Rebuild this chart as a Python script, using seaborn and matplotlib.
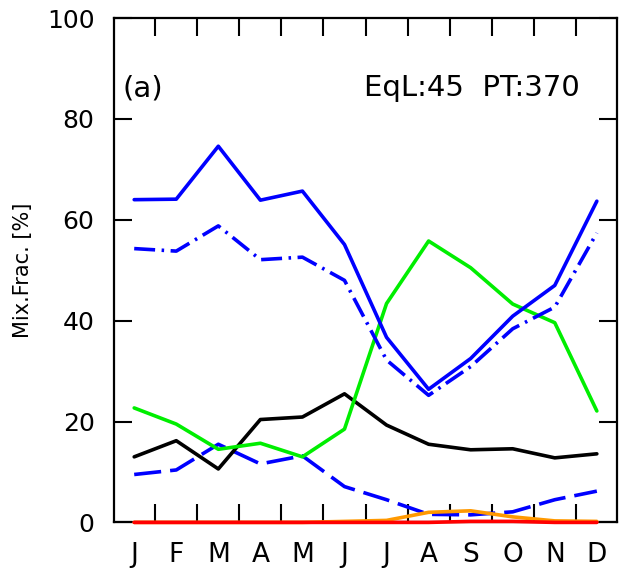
import matplotlib
matplotlib.use("Agg")
import matplotlib.pyplot as plt
import seaborn as sns
import pandas as pd
import numpy as np

months = ["J", "F", "M", "A", "M", "J", "J", "A", "S", "O", "N", "D"]
blue_solid = [64.0, 64.1, 74.6, 63.9, 65.7, 55.1, 36.7, 26.4, 32.5, 40.9, 47.0, 63.7]
blue_dashdot = [54.3, 53.8, 58.8, 52.1, 52.6, 48.0, 32.2, 25.2, 30.9, 38.4, 42.7, 57.4]
blue_dashed = [9.5, 10.4, 15.5, 11.6, 13.2, 7.1, 4.5, 1.6, 1.5, 2.1, 4.5, 6.2]
green = [22.7, 19.5, 14.5, 15.7, 13.0, 18.5, 43.4, 55.8, 50.5, 43.3, 39.6, 22.1]
black = [13.0, 16.2, 10.6, 20.4, 20.9, 25.5, 19.3, 15.5, 14.4, 14.6, 12.8, 13.6]
orange = [0.0, 0.0, 0.0, 0.0, 0.0, 0.2, 0.4, 2.0, 2.3, 1.1, 0.3, 0.2]
red = [0.0, 0.0, 0.0, 0.0, 0.0, 0.0, 0.0, 0.0, 0.2, 0.2, 0.0, 0.0]
yticks = [0, 20, 40, 60, 80, 100]

sns.set_style("white")
plt.rcParams['font.family'] = ['DejaVu Sans']
plt.rcParams['text.color'] = 'black'
plt.rcParams['axes.labelcolor'] = 'black'
plt.rcParams['xtick.color'] = 'black'
plt.rcParams['ytick.color'] = 'black'

fig = plt.figure(figsize=(6.21, 5.85), dpi=100)
ax = fig.add_axes([0.1836, 0.107, 0.81, 0.862])

x = np.arange(len(months))
lw = 2.6
series = [
    (blue_dashed, "#0000ff", (0, (7.5, 2.5)), 2.1),
    (black, "#000000", "-", 2.2),
    (green, "#00ee00", "-", 2.3),
    (blue_dashdot, "#0000ff", (0, (5.8, 1.8, 0.7, 1.8)), 2.4),
    (blue_solid, "#0000ff", "-", 2.5),
    (orange, "#ff9900", "-", 2.6),
    (red, "#ff0000", "-", 3.0),
]
for vals, col, ls, z in series:
    df = pd.DataFrame({"m": x, "v": vals})
    sns.lineplot(data=df, x="m", y="v", ax=ax, color=col, linestyle=ls,
                 linewidth=lw, zorder=z, clip_on=False)

ax.set_xlim(-0.48, 11.48)
ax.set_ylim(0, 100)
ax.set_xticks(x)
ax.set_xticklabels(months, fontsize=19)
ax.set_xticks(np.arange(0.5, 11.0, 1.0), minor=True)
ax.tick_params(axis="x", which="major", length=0, pad=14)
ax.tick_params(axis="x", which="minor", direction="in", length=13, width=1.5,
               top=True, bottom=True)
ax.set_yticks(yticks)
ax.set_yticklabels([str(v) for v in yticks], fontsize=18)
ax.tick_params(axis="y", which="major", direction="in", length=13, width=1.5,
               left=True, right=True, pad=14)
ax.set_xlabel("")
ax.set_ylabel("Mix.Frac. [%]", fontsize=15, labelpad=10)
for s in ax.spines.values():
    s.set_linewidth(1.6)
    s.set_color("black")

ax.text(0.016, 0.845, "(a)", transform=ax.transAxes, fontsize=21, ha="left", va="baseline")
ax.text(0.925, 0.845, "EqL:45  PT:370", transform=ax.transAxes, fontsize=21, ha="right", va="baseline")

fig.savefig("out.png", dpi=100)
